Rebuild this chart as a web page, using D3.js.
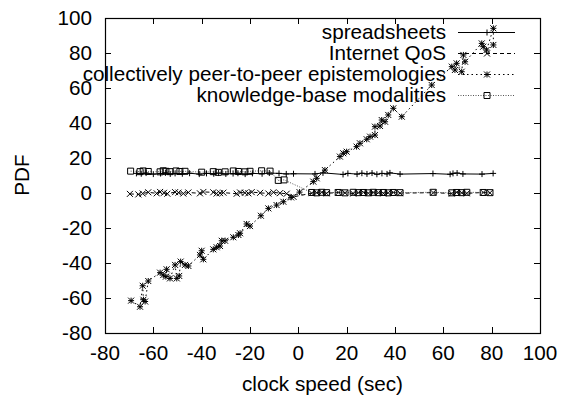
<!DOCTYPE html>
<html><head><meta charset="utf-8">
<script src="https://cdn.jsdelivr.net/npm/d3@7"></script>
<style>body{margin:0;background:#fff}svg{display:block}text{font-family:"Liberation Sans",Arial,sans-serif}</style>
</head><body><svg id="c" width="562" height="397"></svg>
<script>
const xTicks=[-80,-60,-40,-20,0,20,40,60,80,100];
const yTicks=[-80,-60,-40,-20,0,20,40,60,80,100];
const seriesNames=["spreadsheets","Internet QoS","collectively peer-to-peer epistemologies","knowledge-base modalities"];

const spreadX=[-67,-65,-63,-60,-57,-55,-53,-51,-48,-45,-41,-38,-35,-33,-30,-27,-25,-22,-19,-15,-12,-8,-5,-2,6.9,10.2,18.5,20.5,24.3,26.3,28.4,30.5,32.5,34.6,36.7,37.9,42.1,55.7,62.8,64,65.7,68.1,76,80.6];
const spreadY=[11.2,11,11.4,10.8,11.1,11.5,10.9,11.2,11,11.3,10.8,11.2,11,11.4,10.9,11.1,11.3,10.8,11.2,11,11.4,11.2,10.9,11,10.9,11.5,10.6,11.2,10.8,11.3,10.9,11.4,10.7,11.2,10.9,11.5,10.8,11.1,10.7,11.2,11.4,10.9,10.8,11.2];

const qosX=[-69.7,-66.2,-64.4,-62.1,-58.6,-57.2,-55.6,-54.2,-51,-49.6,-47.6,-45.5,-40.7,-39.3,-35.2,-33.8,-32.4,-31,-25.5,-24.1,-22.1,-20.7,-19.3,-15.8,-12.4,-10.3,-7.6,-4.8,-2,5.5,7.6,9.7,11.7,16.5,19.3,22.7,24.8,26.9,29,31,33.1,35.2,37.2,39.3,42.1,55.8,63.5,65.5,67.6,69.7,76.5,79.3];
const qosY=[-0.5,-0.8,-0.3,0.4,-0.2,0.6,0.1,-0.4,0.5,0.2,-0.3,0.3,-0.2,0.6,0.4,-0.3,-0.1,0.2,-0.4,0.3,0.1,-0.2,0.5,0.1,-0.3,0.4,-0.1,-0.4,-2.2,-0.1,0.2,0.4,-0.2,0.3,0.1,-0.3,0.2,0.4,-0.1,0.3,0.2,-0.2,0.1,0.3,-0.1,0.2,-0.3,0.4,0.1,-0.2,0.3,0.1];

const episX=[-69.2,-65.5,-64.4,-64.1,-63.4,-62.1,-57.2,-55.9,-54.8,-54.5,-53.1,-51,-50.3,-49.3,-48.7,-46.9,-45.5,-40.7,-40,-39.3,-35.2,-33.8,-32.4,-31.7,-30.3,-26.9,-24.8,-24.1,-21.4,-20,-15.5,-12.4,-9,-6.2,-3,0.5,6.2,7.6,11,17.2,18.6,20,24.1,25.5,28.3,29.7,31.7,31.7,33.8,34.5,35.9,37.2,39.3,42.8,55.2,63.5,64.8,65.5,67.6,68.3,69,75.9,76.5,77.9,80.7,80.7];
const episY=[-61.5,-65,-53,-61,-62,-50.3,-45.5,-46.9,-47.8,-43.6,-48.8,-41.1,-48.8,-47.4,-39.2,-41.1,-41.7,-35.4,-33,-37.9,-32.2,-31,-30.3,-27.3,-27.3,-25.3,-24,-23,-17.7,-18.9,-13,-8.8,-6.9,-5,-2.5,0.5,6.5,8.4,13.1,20.8,22.7,23.6,26.5,28.4,30.7,32.2,33.1,37.9,38.3,41.7,40.7,44.6,48.4,43.6,61.7,72.2,70.3,74.1,69.3,78.9,75,85.5,83.6,81.7,94.1,84.6];

const kbX=[-69.4,-65.5,-64.2,-62.1,-57.2,-55.9,-54.8,-53.1,-50.6,-49,-46.9,-40,-35.2,-33.1,-30.3,-26.9,-24.8,-22.1,-20,-15.2,-11.7,-8.3,-5.9,5.5,7.6,9.7,11.7,16.5,19.3,22.7,24.8,26.9,29,31,33.1,35.2,37.2,39.3,42.1,55.8,63.5,65.5,67.6,69.7,76.5,79.3];
const kbY=[12.5,12.2,12.6,12.3,12.1,12.7,12.4,12.2,12.6,12.3,12.4,11.9,12.2,11.8,12.1,12.6,12.3,12.1,12.4,12.7,12.5,7.2,7.5,0.3,0.1,0.4,0.2,0.3,0.1,0.4,0.2,0.3,0.1,0.4,0.2,0.3,0.1,0.3,0.2,0.4,0.1,0.3,0.2,0.4,0.3,0.2];

const svg=d3.select("#c");
const L=105,R=540,T=18,B=333;
const x=d3.scaleLinear().domain([-80,100]).range([L,R]);
const y=d3.scaleLinear().domain([-80,100]).range([B,T]);
const FS=20.7;

// ticks (inward, mirrored)
const tk=svg.append("g").attr("stroke","#000").attr("stroke-width",1);
xTicks.forEach(v=>{const px=Math.round(x(v))+0.5;
  tk.append("line").attr("x1",px).attr("x2",px).attr("y1",B).attr("y2",B-6);
  tk.append("line").attr("x1",px).attr("x2",px).attr("y1",T).attr("y2",T+6);});
yTicks.forEach(v=>{const py=Math.round(y(v))+0.5;
  tk.append("line").attr("x1",L).attr("x2",L+6).attr("y1",py).attr("y2",py);
  tk.append("line").attr("x1",R).attr("x2",R-6).attr("y1",py).attr("y2",py);});

svg.append("g").selectAll("text").data(xTicks).join("text")
 .attr("x",d=>x(d)).attr("y",B+27).attr("text-anchor","middle").attr("font-size",FS).text(d=>d);
svg.append("g").selectAll("text").data(yTicks).join("text")
 .attr("x",L-13).attr("y",d=>y(d)+7).attr("text-anchor","end").attr("font-size",FS).text(d=>d);

svg.append("text").attr("x",(L+R)/2).attr("y",391).attr("text-anchor","middle").attr("font-size",FS).text("clock speed (sec)");
svg.append("text").attr("transform","translate(29,175) rotate(-90)").attr("text-anchor","middle").attr("font-size",FS).text("PDF");

const sym={
 plus:s=>`M${-s},0H${s}M0,${-s}V${s}`,
 cross:s=>`M${-s},${-s}L${s},${s}M${-s},${s}L${s},${-s}`,
 star:s=>`M${-s},0H${s}M0,${-s}V${s}M${-s},${-s}L${s},${s}M${-s},${s}L${s},${-s}`,
 box:s=>`M${-s},${-s}H${s}V${s}H${-s}Z`
};
const series=[
 {xs:spreadX,ys:spreadY,dash:null,sym:"plus",col:"#000"},
 {xs:qosX,ys:qosY,dash:"4,3",sym:"cross",col:"#000"},
 {xs:episX,ys:episY,dash:"1.5,3",sym:"star",col:"#000"},
 {xs:kbX,ys:kbY,dash:"1,1.5",sym:"box",col:"#555"}
];
const line=d3.line().x(d=>x(d[0])).y(d=>y(d[1]));
const plot=svg.append("g");
series.forEach(s=>{
 const pts=s.xs.map((v,i)=>[v,s.ys[i]]);
 plot.append("path").attr("d",line(pts)).attr("fill","none").attr("stroke",s.col).attr("stroke-width",1).attr("stroke-dasharray",s.dash);
 plot.append("g").selectAll("path").data(pts).join("path")
  .attr("transform",d=>`translate(${x(d[0])},${y(d[1])})`)
  .attr("d",sym[s.sym](3)).attr("fill","none").attr("stroke","#000").attr("stroke-width",1);
});

// legend
const lg=svg.append("g");
seriesNames.forEach((n,i)=>{
 const ly=32+i*21;const s=series[i];
 lg.append("text").attr("x",446).attr("y",ly+7).attr("text-anchor","end").attr("font-size",FS).text(n);
 lg.append("line").attr("x1",458).attr("x2",515).attr("y1",ly+0.5).attr("y2",ly+0.5).attr("stroke",s.col).attr("stroke-dasharray",s.dash);
 lg.append("path").attr("transform",`translate(487,${ly+0.5})`).attr("d",sym[s.sym](3)).attr("fill","none").attr("stroke","#000");
});

svg.append("rect").attr("x",L+0.5).attr("y",T+0.5).attr("width",R-L).attr("height",B-T).attr("fill","none").attr("stroke","#000").attr("stroke-width",1.2);
</script></body></html>
